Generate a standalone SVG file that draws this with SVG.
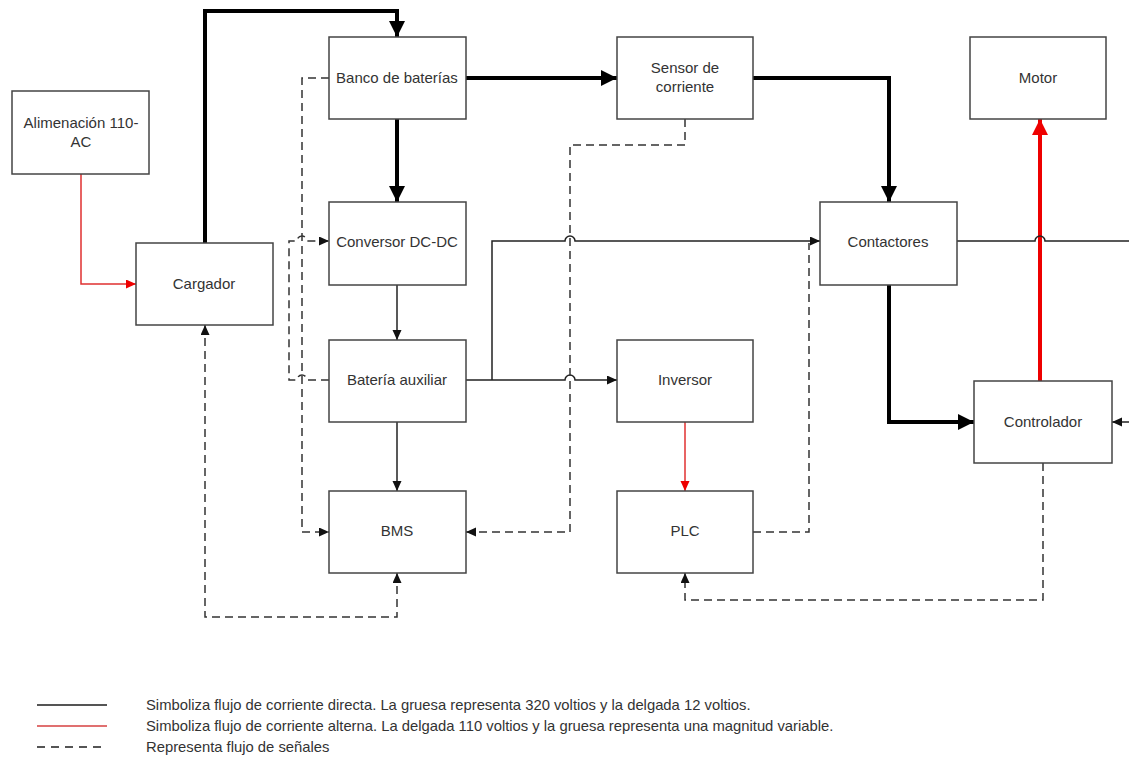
<svg xmlns="http://www.w3.org/2000/svg" width="1129" height="760" viewBox="0 0 1129 760">
<style>
.box{fill:#fff;stroke:#444;stroke-width:1.5}
.lbl{font-family:"Liberation Sans",Arial,sans-serif;font-size:15px;fill:#333;text-anchor:middle}
.leg{font-family:"Liberation Sans",Arial,sans-serif;font-size:14.8px;fill:#333}
.thick{fill:none;stroke:#000;stroke-width:4;stroke-linejoin:miter}
.thin{fill:none;stroke:#222;stroke-width:1.5}
.redthick{fill:none;stroke:#e00;stroke-width:4}
.redthin{fill:none;stroke:#e03030;stroke-width:1.5}
.dash{fill:none;stroke:#333;stroke-width:1.5;stroke-dasharray:8 5}
</style>
<defs>
<marker id="aThick" markerUnits="userSpaceOnUse" markerWidth="17" markerHeight="17" refX="16" refY="8" orient="auto"><path d="M0,0 L16,8 L0,16 z" fill="#000"/></marker>
<marker id="aRed" markerUnits="userSpaceOnUse" markerWidth="17" markerHeight="17" refX="16" refY="8" orient="auto"><path d="M0,0 L16,8 L0,16 z" fill="#e00"/></marker>
<marker id="aThin" markerUnits="userSpaceOnUse" markerWidth="11" markerHeight="10" refX="10" refY="4.5" orient="auto-start-reverse"><path d="M0,0 L10,4.5 L0,9 z" fill="#111"/></marker>
<marker id="aRedThin" markerUnits="userSpaceOnUse" markerWidth="11" markerHeight="10" refX="10" refY="4.5" orient="auto"><path d="M0,0 L10,4.5 L0,9 z" fill="#e00"/></marker>
</defs>

<g id="connectors">
<path class="thick" d="M205 243 V11 H397 V37" marker-end="url(#aThick)"/>
<path class="thick" d="M466 78 H617" marker-end="url(#aThick)"/>
<path class="thick" d="M753 78 H889 V202" marker-end="url(#aThick)"/>
<path class="thick" d="M397 119 V202" marker-end="url(#aThick)"/>
<path class="thick" d="M889 285 V422 H974" marker-end="url(#aThick)"/>
<path class="redthick" d="M1040 381 V119" marker-end="url(#aRed)"/>
<path class="thin" d="M397 285 V340" marker-end="url(#aThin)"/>
<path class="thin" d="M397 422 V491" marker-end="url(#aThin)"/>
<path class="thin" d="M466 380 H565 A5 5 0 0 1 575 380 H617" marker-end="url(#aThin)"/>
<path class="thin" d="M492 380 V241 H565 A5 5 0 0 1 575 241 H820" marker-end="url(#aThin)"/>
<path class="thin" d="M957 241 H1035 A5 5 0 0 1 1045 241 H1129"/>
<path class="thin" d="M1129 422 H1112" marker-end="url(#aThin)"/>
<path class="redthin" d="M81 174 V284 H136" marker-end="url(#aRedThin)"/>
<path class="redthin" d="M685 422 V491" marker-end="url(#aRedThin)"/>
<path class="dash" d="M685 119 V145 H570 V532 H466" marker-end="url(#aThin)"/>
<path class="dash" d="M329 78 H302 V532 H329" marker-end="url(#aThin)"/>
<path class="dash" d="M329 380 H307 A5 5 0 0 0 297 380 H289 V241 H297 A5 5 0 0 1 307 241 H329" marker-end="url(#aThin)"/>
<path class="dash" d="M205 325 V617 H397 V573" marker-start="url(#aThin)" marker-end="url(#aThin)"/>
<path class="dash" d="M753 532 H809 V243"/>
<path class="dash" d="M1043 463 V600 H685 V573" marker-end="url(#aThin)"/>
</g>

<g id="alimentacion"><rect class="box" x="12" y="91" width="137" height="83"/><text class="lbl" x="81" y="128">Alimenación 110-</text><text class="lbl" x="81" y="147">AC</text></g>
<g id="cargador"><rect class="box" x="136" y="243" width="137" height="82"/><text class="lbl" x="204" y="289">Cargador</text></g>
<g id="banco"><rect class="box" x="329" y="37" width="137" height="82"/><text class="lbl" x="397" y="83">Banco de baterías</text></g>
<g id="conversor"><rect class="box" x="329" y="202" width="137" height="83"/><text class="lbl" x="397" y="247">Conversor DC-DC</text></g>
<g id="bateria"><rect class="box" x="329" y="340" width="137" height="82"/><text class="lbl" x="397" y="385">Batería auxiliar</text></g>
<g id="bms"><rect class="box" x="329" y="491" width="137" height="82"/><text class="lbl" x="397" y="536">BMS</text></g>
<g id="sensor"><rect class="box" x="617" y="37" width="136" height="82"/><text class="lbl" x="685" y="73">Sensor de</text><text class="lbl" x="685" y="92">corriente</text></g>
<g id="inversor"><rect class="box" x="617" y="340" width="136" height="82"/><text class="lbl" x="685" y="385">Inversor</text></g>
<g id="plc"><rect class="box" x="617" y="491" width="136" height="82"/><text class="lbl" x="685" y="536">PLC</text></g>
<g id="motor"><rect class="box" x="970" y="37" width="136" height="82"/><text class="lbl" x="1038" y="83">Motor</text></g>
<g id="contactores"><rect class="box" x="820" y="202" width="137" height="83"/><text class="lbl" x="888" y="247">Contactores</text></g>
<g id="controlador"><rect class="box" x="974" y="381" width="138" height="82"/><text class="lbl" x="1043" y="427">Controlador</text></g>

<g id="legend">
<path d="M37 705 H107" stroke="#555" stroke-width="2"/>
<path d="M37 726 H107" stroke="#e07070" stroke-width="2"/>
<path d="M37 747 H107" stroke="#555" stroke-width="2" stroke-dasharray="8 6"/>
<text class="leg" x="146" y="710">Simboliza flujo de corriente directa. La gruesa representa 320 voltios y la delgada 12 voltios.</text>
<text class="leg" x="146" y="731">Simboliza flujo de corriente alterna. La delgada 110 voltios y la gruesa representa una magnitud variable.</text>
<text class="leg" x="146" y="752">Representa flujo de señales</text>
</g>
</svg>
